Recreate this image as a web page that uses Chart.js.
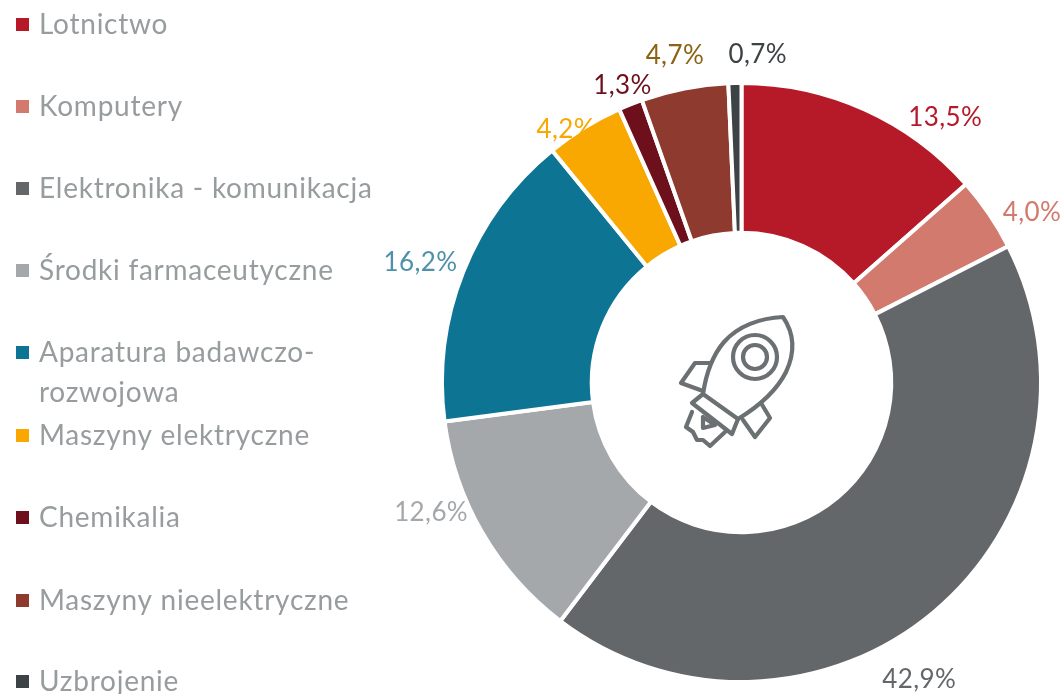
<!DOCTYPE html>
<html>
<head>
    <meta charset="utf-8">
    <script src="https://cdn.jsdelivr.net/npm/chart.js"></script>
    <style>
        html, body { margin: 0; padding: 0; background: #fff; overflow: hidden; }
        #wrap { position: relative; width: 1064px; height: 694px; }
        #rocket { position: absolute; left: 660px; top: 300px; }
    </style>
</head>
<body>
<div id="wrap">
    <canvas id="myChart" width="1064" height="694"></canvas>
    <svg id="rocket" width="160" height="160" viewBox="0 0 160 160" fill="none" stroke="#6b7072" stroke-width="4.2" stroke-linejoin="round" stroke-linecap="round">
        <path d="M123 17 C100 18 78 26 64 42 C52 56 46 74 43 94 L78 119 C96 108 116 92 126 72 C134 55 136 36 123 17 Z"/>
        <circle cx="95" cy="57" r="22"/>
        <circle cx="95" cy="57" r="12"/>
        <path d="M50 63 L35 63 L21 83 L43 91"/>
        <path d="M83 120 L95 137 L110 118 L101 103"/>
        <path d="M43 94 L32 103 L72 134 L78 119"/>
        <path d="M32 112 L26 127 L33 132 L37 140 L43 140 L50 146 L65 132"/>
        <path d="M43 117 L43 128 L55 125 Z"/>
    </svg>
</div>

<script>
    const categories = ['Lotnictwo', 'Komputery', 'Elektronika - komunikacja', 'Środki farmaceutyczne',
        'Aparatura badawczo-\nrozwojowa', 'Maszyny elektryczne', 'Chemikalia', 'Maszyny nieelektryczne', 'Uzbrojenie'];
    const shares = [13.5, 4.0, 42.9, 12.6, 16.2, 4.2, 1.3, 4.7, 0.7];
    const sliceColors = ['#b61a29', '#d27a6d', '#63676a', '#a5a8ab', '#0e7494', '#f8a800', '#6e0f1c', '#8f3a2e', '#3d4244'];
    const labelColors = ['#b61a29', '#d27a6d', '#63676a', '#a5a8ab', '#4f90ab', '#f8a800', '#6e0f1c', '#8a6414', '#3d4244'];

    // labels sit where they were dragged in the original, so nudge each one off its slice middle
    const labelShiftDeg = [13.2, 3.8, 8.9, 7.6, -1, -3.0, 0, -0.5, 4.1];
    const labelDist = [335, 337, 345, 336, 343, 309, 321, 335, 329];

    const legendRows = [25, 107, 189, 271, 353, 436, 518, 601, 682];
    const fontFace = 'Lato';

    const percentLabels = {
        id: 'percentLabels',
        afterDatasetsDraw(chart) {
            const ctx = chart.ctx;
            ctx.save();
            ctx.font = '26px ' + fontFace;
            ctx.letterSpacing = '0.4px';
            ctx.textAlign = 'center';
            ctx.textBaseline = 'middle';
            chart.getDatasetMeta(0).data.forEach((arc, i) => {
                const mid = (arc.startAngle + arc.endAngle) / 2 + labelShiftDeg[i] * Math.PI / 180;
                ctx.fillStyle = labelColors[i];
                ctx.fillText(shares[i].toFixed(1).replace('.', ',') + '%',
                    arc.x + Math.cos(mid) * labelDist[i], arc.y + Math.sin(mid) * labelDist[i] + 1);
            });
            ctx.restore();
        }
    };

    const sideLegend = {
        id: 'sideLegend',
        afterDraw(chart) {
            const ctx = chart.ctx;
            ctx.save();
            ctx.font = '28px ' + fontFace;
            ctx.letterSpacing = '0.75px';
            ctx.textBaseline = 'middle';
            categories.forEach((name, i) => {
                ctx.fillStyle = sliceColors[i];
                ctx.fillRect(16, legendRows[i] - 7, 13, 13);
                ctx.fillStyle = '#979c9e';
                name.split('\n').forEach((line, n) => {
                    ctx.fillText(line, 39, legendRows[i] + n * 40);
                });
            });
            ctx.restore();
        }
    };

    new Chart(document.getElementById('myChart'), {
        type: 'doughnut',
        data: {
            labels: categories,
            datasets: [{
                data: shares,
                backgroundColor: sliceColors,
                borderColor: '#ffffff',
                borderWidth: 4
            }]
        },
        options: {
            responsive: false,
            animation: false,
            cutout: '50%',
            layout: { padding: { left: 440, right: 21, top: 81, bottom: 10 } },
            plugins: { legend: { display: false }, tooltip: { enabled: false } }
        },
        plugins: [percentLabels, sideLegend]
    });
</script>
</body>
</html>
